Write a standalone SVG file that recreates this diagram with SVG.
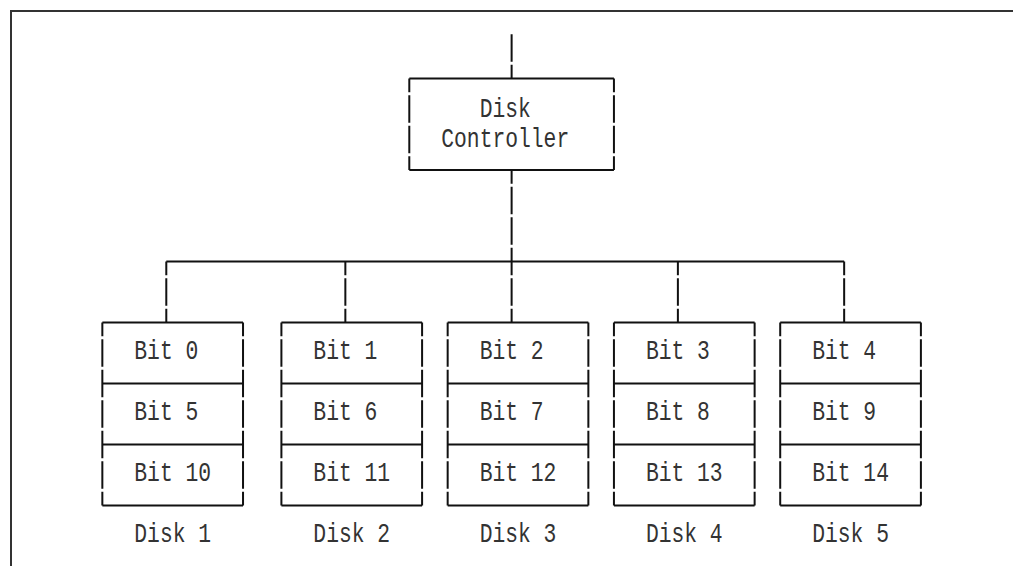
<svg xmlns="http://www.w3.org/2000/svg" width="1013" height="566" viewBox="0 0 1013 566">
<style>
.bg{fill:#ffffff}
.frame{stroke:#333;stroke-width:2;fill:none}
.ln{stroke:#111;stroke-width:2;fill:none}
.v{stroke-dasharray:27.5 3;stroke-dashoffset:13.75}
.v0{stroke-dasharray:27.5 3;stroke-dashoffset:0}
.t{font-family:"Liberation Mono","DejaVu Sans Mono",monospace;font-size:27.5px;fill:#333}
</style>
<rect class="bg" x="0" y="0" width="1013" height="566"/>
<path class="frame" d="M11 566V11H1013"/>

<g id="connectors">
  <line class="ln v0" x1="511.62" y1="34.25" x2="511.62" y2="78.5"/>
  <line class="ln v" x1="511.62" y1="170" x2="511.62" y2="261.5"/>
  <line class="ln" x1="166.29" y1="261.5" x2="844.16" y2="261.5"/>
  <line class="ln v" x1="166.29" y1="261.5" x2="166.29" y2="322.5"/>
  <line class="ln v" x1="345.35" y1="261.5" x2="345.35" y2="322.5"/>
  <line class="ln v" x1="511.62" y1="261.5" x2="511.62" y2="322.5"/>
  <line class="ln v" x1="677.89" y1="261.5" x2="677.89" y2="322.5"/>
  <line class="ln v" x1="844.16" y1="261.5" x2="844.16" y2="322.5"/>
</g>

<g id="controller">
  <path class="ln" d="M409.3 78.5H613.94M409.3 170H613.94"/>
  <line class="ln v" x1="409.3" y1="78.5" x2="409.3" y2="170"/>
  <line class="ln v" x1="613.94" y1="78.5" x2="613.94" y2="170"/>
  <text class="t" x="479.65" y="116.5" textLength="51.16" lengthAdjust="spacingAndGlyphs">Disk</text>
  <text class="t" x="441.28" y="147" textLength="127.9" lengthAdjust="spacingAndGlyphs">Controller</text>
</g>

<g id="disk1">
  <path class="ln" d="M102.34 322.5H243.03M102.34 383.5H243.03M102.34 444.5H243.03M102.34 505.5H243.03"/>
  <line class="ln v" x1="102.34" y1="322.5" x2="102.34" y2="505.5"/>
  <line class="ln v" x1="243.03" y1="322.5" x2="243.03" y2="505.5"/>
  <text class="t" x="134.32" y="359" textLength="63.95" lengthAdjust="spacingAndGlyphs">Bit 0</text>
  <text class="t" x="134.32" y="420" textLength="63.95" lengthAdjust="spacingAndGlyphs">Bit 5</text>
  <text class="t" x="134.32" y="481" textLength="76.74" lengthAdjust="spacingAndGlyphs">Bit 10</text>
  <text class="t" x="134.32" y="542" textLength="76.74" lengthAdjust="spacingAndGlyphs">Disk 1</text>
</g>

<g id="disk2">
  <path class="ln" d="M281.4 322.5H422.09M281.4 383.5H422.09M281.4 444.5H422.09M281.4 505.5H422.09"/>
  <line class="ln v" x1="281.4" y1="322.5" x2="281.4" y2="505.5"/>
  <line class="ln v" x1="422.09" y1="322.5" x2="422.09" y2="505.5"/>
  <text class="t" x="313.37" y="359" textLength="63.95" lengthAdjust="spacingAndGlyphs">Bit 1</text>
  <text class="t" x="313.37" y="420" textLength="63.95" lengthAdjust="spacingAndGlyphs">Bit 6</text>
  <text class="t" x="313.37" y="481" textLength="76.74" lengthAdjust="spacingAndGlyphs">Bit 11</text>
  <text class="t" x="313.37" y="542" textLength="76.74" lengthAdjust="spacingAndGlyphs">Disk 2</text>
</g>

<g id="disk3">
  <path class="ln" d="M447.67 322.5H588.36M447.67 383.5H588.36M447.67 444.5H588.36M447.67 505.5H588.36"/>
  <line class="ln v" x1="447.67" y1="322.5" x2="447.67" y2="505.5"/>
  <line class="ln v" x1="588.36" y1="322.5" x2="588.36" y2="505.5"/>
  <text class="t" x="479.65" y="359" textLength="63.95" lengthAdjust="spacingAndGlyphs">Bit 2</text>
  <text class="t" x="479.65" y="420" textLength="63.95" lengthAdjust="spacingAndGlyphs">Bit 7</text>
  <text class="t" x="479.65" y="481" textLength="76.74" lengthAdjust="spacingAndGlyphs">Bit 12</text>
  <text class="t" x="479.65" y="542" textLength="76.74" lengthAdjust="spacingAndGlyphs">Disk 3</text>
</g>

<g id="disk4">
  <path class="ln" d="M613.94 322.5H754.63M613.94 383.5H754.63M613.94 444.5H754.63M613.94 505.5H754.63"/>
  <line class="ln v" x1="613.94" y1="322.5" x2="613.94" y2="505.5"/>
  <line class="ln v" x1="754.63" y1="322.5" x2="754.63" y2="505.5"/>
  <text class="t" x="645.92" y="359" textLength="63.95" lengthAdjust="spacingAndGlyphs">Bit 3</text>
  <text class="t" x="645.92" y="420" textLength="63.95" lengthAdjust="spacingAndGlyphs">Bit 8</text>
  <text class="t" x="645.92" y="481" textLength="76.74" lengthAdjust="spacingAndGlyphs">Bit 13</text>
  <text class="t" x="645.92" y="542" textLength="76.74" lengthAdjust="spacingAndGlyphs">Disk 4</text>
</g>

<g id="disk5">
  <path class="ln" d="M780.21 322.5H920.9M780.21 383.5H920.9M780.21 444.5H920.9M780.21 505.5H920.9"/>
  <line class="ln v" x1="780.21" y1="322.5" x2="780.21" y2="505.5"/>
  <line class="ln v" x1="920.9" y1="322.5" x2="920.9" y2="505.5"/>
  <text class="t" x="812.19" y="359" textLength="63.95" lengthAdjust="spacingAndGlyphs">Bit 4</text>
  <text class="t" x="812.19" y="420" textLength="63.95" lengthAdjust="spacingAndGlyphs">Bit 9</text>
  <text class="t" x="812.19" y="481" textLength="76.74" lengthAdjust="spacingAndGlyphs">Bit 14</text>
  <text class="t" x="812.19" y="542" textLength="76.74" lengthAdjust="spacingAndGlyphs">Disk 5</text>
</g>
</svg>
